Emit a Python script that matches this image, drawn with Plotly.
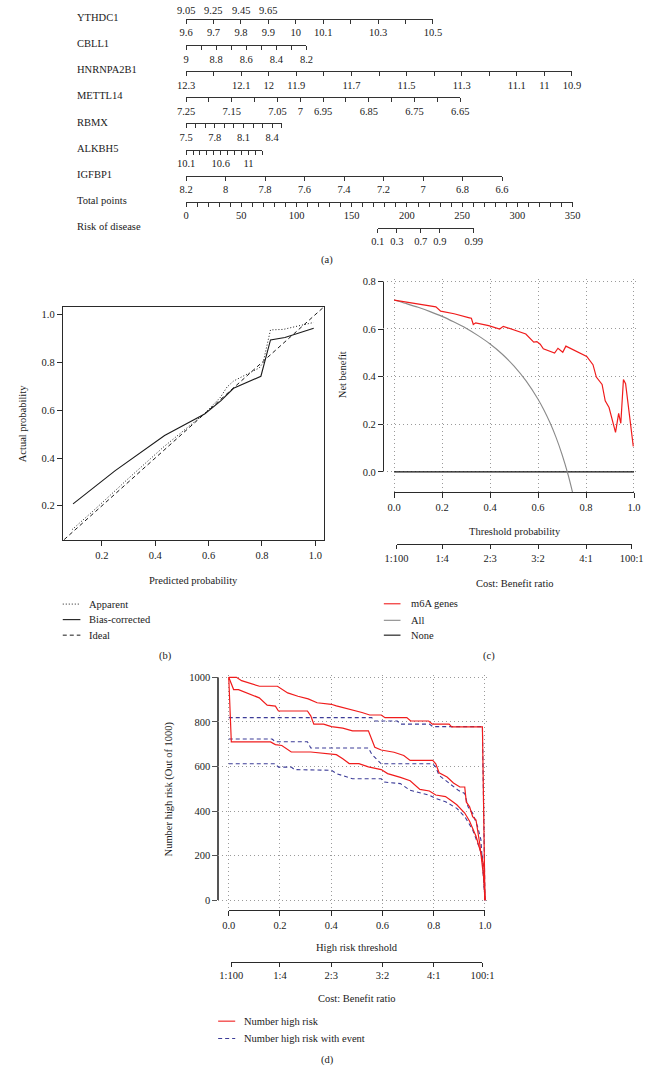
import numpy as np
import plotly.graph_objects as go

W, H = 654, 1071
FONT = "Liberation Serif"
TXT = "#1a1a1a"
AXC = "#2a2a2a"
FS = 10.5

# ======================= DATA =======================
# (a) nomogram
top_partial_labels = ["9.05", "9.25", "9.45", "9.65"]  # row cut off at top edge

row_names = ["YTHDC1", "CBLL1", "HNRNPA2B1", "METTL14", "RBMX", "ALKBH5",
             "IGFBP1", "Total points", "Risk of disease"]

ythdc1_ticks = [9.6, 9.7, 9.8, 9.9, 10.0, 10.1, 10.2, 10.3, 10.4, 10.5]
ythdc1_labels = ["9.6", "9.7", "9.8", "9.9", "10", "10.1", "", "10.3", "", "10.5"]
cbll1_ticks = [9.0, 8.9, 8.8, 8.7, 8.6, 8.5, 8.4, 8.3, 8.2]
cbll1_labels = ["9", "", "8.8", "", "8.6", "", "8.4", "", "8.2"]
hnrnpa2b1_ticks = [12.3, 12.2, 12.1, 12.0, 11.9, 11.8, 11.7, 11.6, 11.5, 11.4,
                   11.3, 11.2, 11.1, 11.0, 10.9]
hnrnpa2b1_labels = ["12.3", "", "12.1", "12", "11.9", "", "11.7", "", "11.5", "",
                    "11.3", "", "11.1", "11", "10.9"]
mettl14_ticks = [7.25, 7.2, 7.15, 7.1, 7.05, 7.0, 6.95, 6.9, 6.85, 6.8, 6.75, 6.7, 6.65]
mettl14_labels = ["7.25", "", "7.15", "", "7.05", "7", "6.95", "", "6.85", "",
                  "6.75", "", "6.65"]
rbmx_ticks = [7.5, 7.6, 7.7, 7.8, 7.9, 8.0, 8.1, 8.2, 8.3, 8.4, 8.5]
rbmx_labels = ["7.5", "", "", "7.8", "", "", "8.1", "", "", "8.4", ""]
alkbh5_ticks = [10.1, 10.2, 10.3, 10.4, 10.5, 10.6, 10.7, 10.8, 10.9, 11.0, 11.1, 11.2]
alkbh5_labels = ["10.1", "", "", "", "", "10.6", "", "", "", "11", "", ""]
igfbp1_ticks = [8.2, 8.0, 7.8, 7.6, 7.4, 7.2, 7.0, 6.8, 6.6]
igfbp1_labels = ["8.2", "8", "7.8", "7.6", "7.4", "7.2", "7", "6.8", "6.6"]
points_ticks = [0, 10, 20, 30, 40, 50, 60, 70, 80, 90, 100, 110, 120, 130, 140, 150,
                160, 170, 180, 190, 200, 210, 220, 230, 240, 250, 260, 270, 280, 290,
                300, 310, 320, 330, 340, 350]
points_labels = [str(v) if v % 50 == 0 else "" for v in points_ticks]
risk_ticks = [0.1, 0.3, 0.7, 0.9, 0.99]
risk_labels = ["0.1", "0.3", "0.7", "0.9", "0.99"]

# (b) calibration
cal_apparent_x = [0.088, 0.164, 0.30, 0.43, 0.585, 0.645, 0.669, 0.6935, 0.79, 0.804,
                  0.832, 0.88, 0.934, 0.994]
cal_apparent_y = [0.100, 0.175, 0.315, 0.445, 0.586, 0.655, 0.697, 0.722, 0.777, 0.798,
                  0.936, 0.938, 0.952, 0.967]
cal_bias_x = [0.092, 0.25, 0.435, 0.513, 0.585, 0.6455, 0.6935, 0.796, 0.832, 0.886, 0.994]
cal_bias_y = [0.208, 0.347, 0.494, 0.542, 0.584, 0.639, 0.6915, 0.742, 0.894, 0.904, 0.943]
cal_ideal_x = [0.0, 1.1]
cal_ideal_y = [0.0, 1.1]
cal_ticks = [0.2, 0.4, 0.6, 0.8, 1.0]
cal_ticklabels = ["0.2", "0.4", "0.6", "0.8", "1.0"]

# (c) decision curve
dca_t = [0, 0.174, 0.194, 0.25, 0.314, 0.322, 0.33, 0.34, 0.394, 0.44, 0.455, 0.50,
         0.549, 0.582, 0.595, 0.609, 0.622, 0.669, 0.683, 0.703, 0.716, 0.803, 0.829,
         0.843, 0.867, 0.880, 0.896, 0.923, 0.936, 0.945, 0.956, 0.965, 0.997]
dca_model = [0.721, 0.693, 0.675, 0.664, 0.647, 0.645, 0.619, 0.626, 0.614, 0.600,
             0.611, 0.597, 0.579, 0.545, 0.547, 0.536, 0.517, 0.499, 0.519, 0.502,
             0.528, 0.485, 0.450, 0.398, 0.367, 0.298, 0.270, 0.166, 0.246, 0.204,
             0.388, 0.370, 0.107]
dca_all_t = [0, 0.05, 0.1, 0.15, 0.2, 0.25, 0.3, 0.35, 0.4, 0.45, 0.5, 0.55, 0.6,
             0.625, 0.65, 0.675, 0.7, 0.725, 0.75]
dca_all = [0.722, 0.707, 0.691, 0.673, 0.653, 0.629, 0.603, 0.572, 0.537, 0.495,
           0.444, 0.382, 0.305, 0.259, 0.206, 0.145, 0.073, -0.011, -0.112]
dca_none_t = [0.0, 1.0]
dca_none = [0.0, 0.0]
thr_ticks = [0.0, 0.2, 0.4, 0.6, 0.8, 1.0]
thr_labels = ["0.0", "0.2", "0.4", "0.6", "0.8", "1.0"]
nb_ticks = [0.0, 0.2, 0.4, 0.6, 0.8]
nb_labels = ["0.0", "0.2", "0.4", "0.6", "0.8"]
cb_ticks = [0.01, 0.2, 0.4, 0.6, 0.8, 0.99]
cb_labels = ["1:100", "1:4", "2:3", "3:2", "4:1", "100:1"]

# (d) clinical impact
d_red_upper_t = [0, 0.03, 0.05, 0.08, 0.12, 0.19, 0.21, 0.23, 0.27, 0.31, 0.345, 0.40,
                 0.42, 0.46, 0.495, 0.52, 0.55, 0.595, 0.61, 0.695, 0.71, 0.78, 0.795,
                 0.86, 0.87, 0.99, 1.0]
d_red_upper_n = [1000, 1000, 985, 975, 960, 960, 945, 930, 915, 903, 886, 879, 872,
                 861, 849, 842, 831, 831, 819, 819, 804, 804, 790, 790, 778, 778, 0]
d_red_mid_t = [0, 0.019, 0.038, 0.094, 0.119, 0.150, 0.182, 0.194, 0.307, 0.320, 0.332,
               0.370, 0.401, 0.445, 0.483, 0.545, 0.558, 0.570, 0.595, 0.645, 0.683,
               0.708, 0.796, 0.808, 0.821, 0.852, 0.877, 0.902, 0.921, 0.927, 0.940,
               0.952, 0.965, 0.980, 0.995, 1.0]
d_red_mid_n = [1000, 945, 945, 918, 908, 875, 871, 849, 849, 827, 790, 790, 779, 772,
               760, 760, 723, 686, 674, 664, 649, 627, 627, 612, 572, 553, 526, 508, 508,
               441, 419, 375, 360, 250, 100, 0]
d_red_low_t = [0, 0.01, 0.163, 0.182, 0.207, 0.232, 0.244, 0.320, 0.401, 0.420, 0.445,
               0.470, 0.508, 0.545, 0.595, 0.620, 0.670, 0.708, 0.746, 0.783, 0.808,
               0.846, 0.865, 0.890, 0.921, 0.940, 0.965, 0.984, 0.996, 1.0]
d_red_low_n = [1000, 710, 710, 698, 694, 675, 665, 665, 653, 653, 635, 613, 613, 598,
               586, 568, 551, 536, 497, 490, 472, 465, 450, 428, 391, 354, 287, 213, 150, 0]
d_blue_upper_t = [0, 0.558, 0.570, 0.658, 0.670, 0.783, 0.796, 0.99, 1.0]
d_blue_upper_n = [819, 819, 804, 804, 790, 790, 779, 779, 0]
d_blue_mid_t = [0, 0.169, 0.182, 0.307, 0.320, 0.545, 0.558, 0.583, 0.595, 0.796, 0.808,
                0.821, 0.846, 0.896, 0.921, 0.934, 0.952, 0.971, 0.984, 1.0]
d_blue_mid_n = [723, 723, 711, 711, 683, 683, 655, 627, 612, 612, 597, 560, 538, 493,
                479, 419, 390, 331, 272, 0]
d_blue_low_t = [0, 0.182, 0.194, 0.244, 0.257, 0.401, 0.420, 0.483, 0.595, 0.608, 0.670,
                0.708, 0.783, 0.808, 0.846, 0.890, 0.921, 0.952, 0.971, 0.990, 1.0]
d_blue_low_n = [612, 612, 597, 597, 586, 583, 568, 545, 545, 530, 523, 493, 471, 456,
                442, 412, 375, 316, 257, 198, 0]
hr_ticks = [0, 200, 400, 600, 800, 1000]
hr_labels = ["0", "200", "400", "600", "800", "1000"]

# ======================= HELPERS =======================
def fx(p):
    return p / W


def fy(p):
    return 1 - p / H


def logit(p):
    p = np.asarray(p, dtype=float)
    return np.log(p / (1 - p))


RED = "#f01c1c"
BLUE = "#3c3c98"
GRAY = "#8a8a8a"
DOT = "1px,2px"
DASH = "4px,3px"
GRIDDASH = "1px,3px"
GRIDC = "#9a9a9a"

tickfont = dict(family=FONT, size=FS, color=TXT)

fig = go.Figure()
layout = dict(
    width=W, height=H, margin=dict(l=0, r=0, t=0, b=0, pad=0),
    paper_bgcolor="white", plot_bgcolor="rgba(0,0,0,0)", showlegend=False,
    font=dict(family=FONT, size=FS, color=TXT),
)

# hidden dummy axes
layout["xaxis"] = dict(visible=False, domain=[0, 1], range=[0, 1], anchor="y", fixedrange=True)
layout["yaxis"] = dict(visible=False, domain=[0, 1], range=[0, 1], anchor="x", fixedrange=True)


def deco_x(domain, rng, pos_px, vals, text, ticklen=4, lc=AXC, lw=1):
    return dict(domain=domain, range=rng, anchor="free", position=fy(pos_px),
                showline=True, linecolor=lc, linewidth=lw, ticks="outside",
                ticklen=ticklen, tickwidth=1, tickcolor=lc, tickmode="array",
                tickvals=list(vals), ticktext=text, tickangle=0, showgrid=False,
                zeroline=False, fixedrange=True, tickfont=tickfont, side="bottom")


def deco_y(domain, rng, pos_px, vals, text, ticklen=5, lc=AXC, lw=1):
    return dict(domain=domain, range=rng, anchor="free", position=fx(pos_px),
                showline=True, linecolor=lc, linewidth=lw, ticks="outside",
                ticklen=ticklen, tickwidth=1, tickcolor=lc, tickmode="array",
                tickvals=list(vals), ticktext=text, tickangle=0, showgrid=False,
                zeroline=False, fixedrange=True, tickfont=tickfont, side="left")


def dummy(xref, yref, xs, ys):
    fig.add_trace(go.Scatter(x=xs, y=ys, xaxis=xref, yaxis=yref, mode="markers",
                             marker=dict(opacity=0, size=1), hoverinfo="skip",
                             showlegend=False))


def line(xref, yref, xs, ys, color, width=1.1, dash="solid", shape="linear"):
    fig.add_trace(go.Scatter(x=xs, y=ys, xaxis=xref, yaxis=yref, mode="lines",
                             line=dict(color=color, width=width, dash=dash, shape=shape),
                             hoverinfo="skip", showlegend=False))


annotations = []
shapes = []


def ann(text, x, y, xanchor="center", yanchor="middle", angle=0):
    annotations.append(dict(text=text, x=fx(x), y=fy(y), xref="paper", yref="paper",
                            xanchor=xanchor, yanchor=yanchor, showarrow=False,
                            textangle=angle, font=dict(family=FONT, size=FS, color=TXT)))


def legend_sample(x0, x1, y, color, dash="solid", width=1.1):
    shapes.append(dict(type="line", xref="paper", yref="paper", x0=fx(x0), x1=fx(x1),
                       y0=fy(y), y1=fy(y), line=dict(color=color, width=width, dash=dash)))


# ======================= (b) calibration =======================
layout["xaxis2"] = dict(domain=[fx(52.7), fx(324)], range=[0.0534, 1.0329], anchor="y2",
                        showline=True, mirror=True, linecolor=AXC, linewidth=1,
                        ticks="outside", ticklen=5, tickcolor=AXC, tickmode="array",
                        tickvals=cal_ticks, ticktext=cal_ticklabels, tickangle=0,
                        showgrid=False, zeroline=False, fixedrange=True, tickfont=tickfont)
layout["yaxis2"] = dict(domain=[fy(541), fy(305)], range=[0.0551, 1.0323], anchor="x2",
                        showline=True, mirror=True, linecolor=AXC, linewidth=1,
                        ticks="outside", ticklen=5, tickcolor=AXC, tickmode="array",
                        tickvals=cal_ticks, ticktext=cal_ticklabels, tickangle=0,
                        showgrid=False, zeroline=False, fixedrange=True, tickfont=tickfont)
line("x2", "y2", cal_ideal_x, cal_ideal_y, "#1a1a1a", 1.0, DASH)
line("x2", "y2", cal_apparent_x, cal_apparent_y, "#1a1a1a", 1.0, DOT)
line("x2", "y2", cal_bias_x, cal_bias_y, "#1a1a1a", 1.1, "solid")

ann("Predicted probability", 188, 581)
ann("Actual probability", 11, 423, angle=-90)
legend_sample(52.7, 71, 605.3, "#1a1a1a", DOT, 1.0)
legend_sample(52.7, 71, 621, "#1a1a1a", "solid", 1.1)
legend_sample(52.7, 71, 636.7, "#1a1a1a", DASH, 1.0)
ann("Apparent", 78.3, 605.3, xanchor="left")
ann("Bias-corrected", 78.3, 621, xanchor="left")
ann("Ideal", 78.3, 636.7, xanchor="left")
ann("(b)", 159, 658)

# ======================= (c) decision curve =======================
layout["xaxis3"] = dict(domain=[fx(385), fx(649)], range=[-0.047, 1.0133], anchor="y3",
                        showline=False, ticks="", showticklabels=False, tickmode="array",
                        tickvals=thr_ticks, showgrid=True, gridcolor=GRIDC, gridwidth=1,
                        griddash=GRIDDASH, zeroline=False, fixedrange=True)
layout["yaxis3"] = dict(domain=[fy(492.3), fy(277)], range=[-0.0856, 0.8093], anchor="x3",
                        showline=False, ticks="", showticklabels=False, tickmode="array",
                        tickvals=nb_ticks, showgrid=True, gridcolor=GRIDC, gridwidth=1,
                        griddash=GRIDDASH, zeroline=False, fixedrange=True)
layout["xaxis4"] = deco_x([fx(396.7), fx(645.7)], [0, 1], 492.3, thr_ticks, thr_labels, ticklen=5)
layout["yaxis4"] = deco_y([fy(471.7), fy(279.3)], [0, 0.8], 385, nb_ticks, nb_labels, ticklen=5)
layout["xaxis5"] = deco_x([fx(399.2), fx(643.2)], [0.01, 0.99], 545, cb_ticks, cb_labels, ticklen=4)
dummy("x4", "y", [0, 1], [0.5, 0.5])
dummy("x", "y4", [0.5, 0.5], [0, 0.8])
dummy("x5", "y", [0.01, 0.99], [0.5, 0.5])

line("x3", "y3", dca_none_t, dca_none, "#111111", 1.1)
line("x3", "y3", dca_all_t, dca_all, GRAY, 1.1, shape="spline")
line("x3", "y3", dca_t, dca_model, RED, 1.2)

ann("Net benefit", 343.3, 373.3, angle=-90)
ann("Threshold probability", 521.7, 531.7)
ann("Cost: Benefit ratio", 522.3, 584.3)
legend_sample(386, 403.3, 605, RED, "solid", 1.1)
legend_sample(386, 403.3, 621.7, GRAY, "solid", 1.1)
legend_sample(386, 403.3, 636.7, "#111111", "solid", 1.1)
ann("m6A genes", 411.7, 605, xanchor="left")
ann("All", 411.7, 621.7, xanchor="left")
ann("None", 411.7, 636.7, xanchor="left")
ann("(c)", 495, 658)

# ======================= (d) clinical impact =======================
layout["xaxis6"] = dict(domain=[fx(214), fx(494)], range=[-0.0414, 1.0113], anchor="y5",
                        showline=False, ticks="", showticklabels=False, tickmode="array",
                        tickvals=thr_ticks, showgrid=True, gridcolor=GRIDC, gridwidth=1,
                        griddash=GRIDDASH, zeroline=False, fixedrange=True)
layout["yaxis5"] = dict(domain=[fy(914.3), fy(677)], range=[-43.5, 1010.2], anchor="x6",
                        showline=False, ticks="", showticklabels=False, tickmode="array",
                        tickvals=hr_ticks, showgrid=True, gridcolor=GRIDC, gridwidth=1,
                        griddash=GRIDDASH, zeroline=False, fixedrange=True)
layout["xaxis7"] = deco_x([fx(225), fx(491)], [0, 1], 914.3, thr_ticks, thr_labels, ticklen=5)
layout["yaxis6"] = deco_y([fy(904.5), fy(679.3)], [0, 1000], 214, hr_ticks, hr_labels,
                          ticklen=5, lc="#555555", lw=1.6)
layout["xaxis8"] = deco_x([fx(227.66), fx(488.34)], [0.01, 0.99], 966.7, cb_ticks, cb_labels, ticklen=4)
dummy("x7", "y", [0, 1], [0.5, 0.5])
dummy("x", "y6", [0.5, 0.5], [0, 1000])
dummy("x8", "y", [0.01, 0.99], [0.5, 0.5])

line("x6", "y5", d_blue_upper_t, d_blue_upper_n, BLUE, 1.1, DASH)
line("x6", "y5", d_blue_mid_t, d_blue_mid_n, BLUE, 1.1, DASH)
line("x6", "y5", d_blue_low_t, d_blue_low_n, BLUE, 1.1, DASH)
line("x6", "y5", d_red_upper_t, d_red_upper_n, RED, 1.2)
line("x6", "y5", d_red_mid_t, d_red_mid_n, RED, 1.2)
line("x6", "y5", d_red_low_t, d_red_low_n, RED, 1.2)

ann("Number high risk (Out of 1000)", 162.5, 792, angle=-90)
ann("High risk threshold", 358.3, 952.7)
ann("Cost: Benefit ratio", 358.3, 1004.3)
legend_sample(214, 231.7, 1026.7, RED, "solid", 1.1)
legend_sample(214, 231.7, 1044.3, BLUE, DASH, 1.1)
ann("Number high risk", 238.3, 1026.7, xanchor="left")
ann("Number high risk with event", 238.3, 1044.3, xanchor="left")
ann("(d)", 327, 1066)

# ======================= (a) nomogram =======================
NOMO_X0 = 180.7
row_line_y = [14, 40.4, 66.8, 93.2, 119.6, 146, 172.4, 198.8, 225.2]
rows = [
    (ythdc1_ticks, ythdc1_labels, NOMO_X0, 437.0),
    (cbll1_ticks, cbll1_labels, NOMO_X0, 305.7),
    (hnrnpa2b1_ticks, hnrnpa2b1_labels, NOMO_X0, 581.3),
    (mettl14_ticks, mettl14_labels, NOMO_X0, 465.3),
    (rbmx_ticks, rbmx_labels, NOMO_X0, 280.0),
    (alkbh5_ticks, alkbh5_labels, NOMO_X0, 260.0),
    (igfbp1_ticks, igfbp1_labels, NOMO_X0, 508.7),
    (points_ticks, points_labels, NOMO_X0, 582.0),
    (list(logit(risk_ticks)), risk_labels, 379.7, 479.3),
]
ax_i = 9
for (vals, labs, x0, x1), ly, name in zip(rows, row_line_y, row_names):
    key = f"xaxis{ax_i}"
    ref = f"x{ax_i}"
    layout[key] = deco_x([fx(x0), fx(x1)], [vals[0], vals[-1]], ly, vals, labs,
                         ticklen=4, lc="#333333", lw=1)
    dummy(ref, "y", [vals[0], vals[-1]], [0.5, 0.5])
    ann(name, 65.7, ly - 1.3, xanchor="left")
    ax_i += 1

# tick labels of the row that sits just above the visible area (kept fully visible)
for lab, xp in zip(top_partial_labels, [180.7, 209.0, 237.3, 265.7]):
    ann(lab, xp, 5.5)
ann("(a)", 327, 257.7)

layout["annotations"] = annotations
layout["shapes"] = shapes
fig.update_layout(**layout)

fig.write_html("out.html", config={"displayModeBar": False},
               post_script="document.body.style.margin='0';document.body.style.padding='0';")
